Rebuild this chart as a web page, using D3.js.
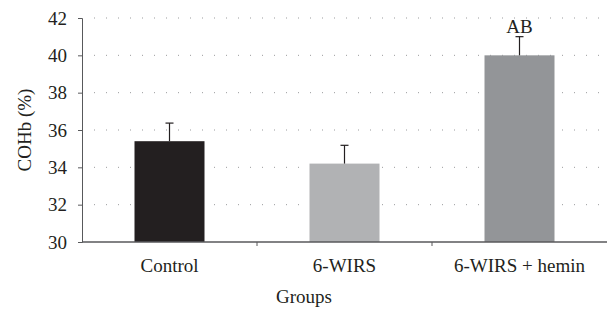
<!DOCTYPE html>
<html>
<head>
<meta charset="utf-8">
<script src="https://cdn.jsdelivr.net/npm/d3@7"></script>
<style>
  body { margin: 0; background: #fff; }
  svg text { font-family: "Liberation Serif", "Times New Roman", serif !important; fill: #231f20; }
</style>
</head>
<body>
<div id="chart"></div>
<script>
var w = 610,
    h = 309,
    margin = {top: 18, right: 3, bottom: 67, left: 82},
    iw = w - margin.left - margin.right,
    ih = h - margin.top - margin.bottom,
    fs = '19px',
    serif = '"Liberation Serif", "Times New Roman", serif';

// data
var groups = ['Control', '6-WIRS', '6-WIRS + hemin'],
    values = [35.4, 34.2, 40.0],
    errors = [0.97, 0.98, 1.0],
    marks = ['', '', 'AB'],
    colors = ['#231f20', '#b1b2b4', '#939598'],
    yTicks = [30, 32, 34, 36, 38, 40, 42];

var svg = d3.select('#chart').append('svg')
    .attr('width', w)
    .attr('height', h)
    .attr('font-family', serif);

var g = svg.append('g')
    .attr('transform', 'translate(' + margin.left + ',' + margin.top + ')');

var x = d3.scaleBand().domain(groups).range([0, iw]).paddingInner(0.6).paddingOuter(0.3);
var y = d3.scaleLinear().domain([30, 42]).range([ih, 0]);

// dotted gridlines
g.selectAll('.grid')
    .data(yTicks.slice(1))
  .enter().append('line')
    .attr('x1', 12)
    .attr('x2', iw)
    .attr('y1', function(d){ return y(d); })
    .attr('y2', function(d){ return y(d); })
    .attr('stroke', '#9a9b9d')
    .attr('stroke-width', 1)
    .attr('stroke-dasharray', '1,11');

// bars
g.selectAll('.bar')
    .data(values)
  .enter().append('rect')
    .attr('x', function(d, i){ return x(groups[i]); })
    .attr('width', x.bandwidth())
    .attr('y', function(d){ return y(d); })
    .attr('height', function(d){ return ih - y(d); })
    .attr('fill', function(d, i){ return colors[i]; });

// error bars
var eb = g.selectAll('.err')
    .data(values)
  .enter().append('g');
eb.append('line')
    .attr('x1', function(d, i){ return x(groups[i]) + x.bandwidth() / 2; })
    .attr('x2', function(d, i){ return x(groups[i]) + x.bandwidth() / 2; })
    .attr('y1', function(d){ return y(d); })
    .attr('y2', function(d, i){ return y(d + errors[i]); })
    .attr('stroke', '#231f20').attr('stroke-width', 1.2);
eb.append('line')
    .attr('x1', function(d, i){ return x(groups[i]) + x.bandwidth() / 2 - 4; })
    .attr('x2', function(d, i){ return x(groups[i]) + x.bandwidth() / 2 + 4; })
    .attr('y1', function(d, i){ return y(d + errors[i]); })
    .attr('y2', function(d, i){ return y(d + errors[i]); })
    .attr('stroke', '#231f20').attr('stroke-width', 1.2);

// significance letters
g.selectAll('.mark')
    .data(values)
  .enter().append('text')
    .attr('x', function(d, i){ return x(groups[i]) + x.bandwidth() / 2; })
    .attr('y', function(d, i){ return y(d + errors[i]) - 4; })
    .attr('text-anchor', 'middle')
    .style('font-size', fs)
    .text(function(d, i){ return marks[i]; });

// y axis
var yAxis = g.append('g')
    .call(d3.axisLeft(y).tickValues(yTicks).tickSize(4).tickPadding(11));
yAxis.attr('font-family', serif);
yAxis.select('.domain').attr('stroke', '#58595b');
yAxis.selectAll('.tick line').attr('stroke', '#58595b');
yAxis.selectAll('text').style('font-size', fs).attr('fill', '#231f20');

// x axis with ticks between groups
var xa = g.append('g').attr('transform', 'translate(0,' + ih + ')');
xa.append('line')
    .attr('x1', 0).attr('x2', iw)
    .attr('stroke', '#58595b').attr('stroke-width', 1.5);
var step = x.step();
xa.selectAll('.sep')
    .data(groups.slice(1))
  .enter().append('line')
    .attr('x1', function(d){ return x(d) - step * x.paddingInner() / 2; })
    .attr('x2', function(d){ return x(d) - step * x.paddingInner() / 2; })
    .attr('y1', 0).attr('y2', 4)
    .attr('stroke', '#58595b');
xa.selectAll('.lbl')
    .data(groups)
  .enter().append('text')
    .attr('x', function(d){ return x(d) + x.bandwidth() / 2; })
    .attr('y', 30)
    .attr('text-anchor', 'middle')
    .style('font-size', fs)
    .text(function(d){ return d; });

// axis titles
svg.append('text')
    .attr('x', 304)
    .attr('y', 303)
    .attr('text-anchor', 'middle')
    .style('font-size', fs)
    .text('Groups');

svg.append('text')
    .attr('transform', 'translate(31,130) rotate(-90)')
    .attr('text-anchor', 'middle')
    .style('font-size', fs)
    .text('COHb (%)');
</script>
</body>
</html>
